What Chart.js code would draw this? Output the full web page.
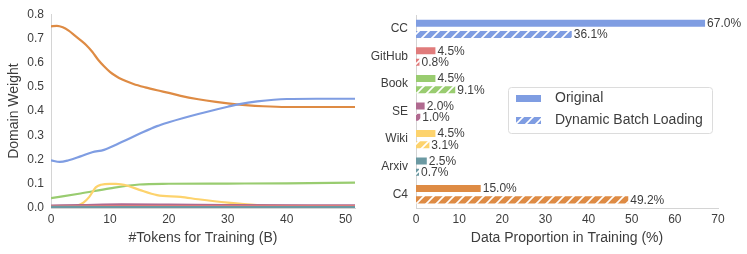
<!DOCTYPE html>
<html lang="en">
<head>
    <meta charset="UTF-8">
    <title>Domain Weight and Data Proportion</title>
    <script src="https://cdn.jsdelivr.net/npm/chart.js"></script>
    <style>
        body { margin: 0; background: #fff; }
        .wrap { position: relative; width: 747px; height: 254px; overflow: hidden; }
        #lineChart { position: absolute; left: 0; top: 0; }
        #barChart { position: absolute; left: 360px; top: 0; }
    </style>
</head>
<body>
    <div class="wrap">
        <canvas id="lineChart" width="370" height="254"></canvas>
        <canvas id="barChart" width="387" height="254"></canvas>
    </div>

    <script>
        // Left panel: domain weights over training tokens (B)
        const c4X   = [0, 1, 2, 3, 4, 5, 6, 7, 8, 9, 10, 11, 12, 14, 16, 18, 20, 22, 25, 28, 30, 33, 36, 40, 45, 51.6];
        const c4W   = [0.75, 0.752, 0.746, 0.732, 0.713, 0.693, 0.672, 0.645, 0.612, 0.585, 0.562, 0.545, 0.531, 0.512, 0.498, 0.486, 0.475, 0.463, 0.449, 0.438, 0.432, 0.425, 0.42, 0.417, 0.417, 0.417];
        const ccX   = [0, 1.5, 3, 5, 7, 9, 12, 15, 18, 20, 25, 30, 32, 35, 40, 45, 51.6];
        const ccW   = [0.197, 0.19, 0.197, 0.213, 0.23, 0.24, 0.272, 0.306, 0.338, 0.354, 0.388, 0.418, 0.429, 0.44, 0.45, 0.451, 0.451];
        const bookX = [0, 5, 10, 15, 20, 30, 40, 51.6];
        const bookW = [0.041, 0.06, 0.081, 0.097, 0.1, 0.101, 0.102, 0.105];
        const wikiX = [0, 3, 4.5, 5.5, 6.5, 7.6, 8.5, 10, 11, 13, 15, 18, 22, 25, 30, 35, 40, 51.6];
        const wikiW = [0.004, 0.005, 0.01, 0.022, 0.046, 0.085, 0.096, 0.1, 0.1, 0.092, 0.075, 0.053, 0.046, 0.036, 0.022, 0.012, 0.008, 0.007];
        const seX   = [0, 5, 12, 20, 30, 51.6];
        const seW   = [0.01, 0.012, 0.015, 0.014, 0.012, 0.011];
        const ghX   = [0, 10, 20, 30, 51.6];
        const ghW   = [0.007, 0.008, 0.008, 0.008, 0.008];
        const axX   = [0, 10, 20, 30, 51.6];
        const axW   = [0.005, 0.004, 0.004, 0.004, 0.004];
        const tokenTicks = [0, 10, 20, 30, 40, 50];

        // Right panel: data proportion in training (%)
        const domains      = ['CC', 'GitHub', 'Book', 'SE', 'Wiki', 'Arxiv', 'C4'];
        const originalPct  = [67.0, 4.5, 4.5, 2.0, 4.5, 2.5, 15.0];
        const dynamicPct   = [36.1, 0.8, 9.1, 1.0, 3.1, 0.7, 49.2];
        const seriesNames  = ['Original', 'Dynamic Batch Loading'];

        const domainColors = ['#7f9de2', '#e07b7b', '#99cc70', '#b06a90', '#fdd36d', '#6b99a2', '#de8b44'];
        const textColor = '#3d3d3d';
        const axisColor = '#d4d4d4';
        const FONT = 'Liberation Sans, Arial, sans-serif';

        function toPoints(xs, ys) {
            return xs.map((x, i) => ({ x: x, y: ys[i] }));
        }

        function lineSet(xs, ys, color) {
            return {
                data: toPoints(xs, ys),
                borderColor: color,
                borderWidth: 2.2,
                pointRadius: 0,
                fill: false,
                cubicInterpolationMode: 'monotone'
            };
        }

        new Chart(document.getElementById('lineChart'), {
            type: 'line',
            data: {
                datasets: [
                    lineSet(axX, axW, domainColors[5]),
                    lineSet(ghX, ghW, domainColors[1]),
                    lineSet(seX, seW, domainColors[3]),
                    lineSet(wikiX, wikiW, domainColors[4]),
                    lineSet(bookX, bookW, domainColors[2]),
                    lineSet(ccX, ccW, domainColors[0]),
                    lineSet(c4X, c4W, domainColors[6])
                ]
            },
            options: {
                responsive: false,
                animation: false,
                devicePixelRatio: 1,
                layout: { padding: { top: 13, right: 15, left: 0, bottom: 0 } },
                plugins: { legend: { display: false }, tooltip: { enabled: false } },
                scales: {
                    x: {
                        type: 'linear',
                        min: 0,
                        max: 51.6,
                        grid: { display: false, drawTicks: false },
                        border: { display: true, color: axisColor },
                        afterBuildTicks: s => { s.ticks = tokenTicks.map(v => ({ value: v })); },
                        ticks: {
                            padding: 4,
                            color: textColor,
                            font: { family: FONT, size: 12 }
                        },
                        title: {
                            display: true,
                            text: '#Tokens for Training (B)',
                            color: textColor,
                            font: { family: FONT, size: 14 },
                            padding: { top: 4, bottom: 7.5 }
                        },
                        afterFit: s => { s.height = 46; }
                    },
                    y: {
                        min: 0,
                        max: 0.8,
                        grid: { display: false, drawTicks: false },
                        border: { display: true, color: axisColor },
                        ticks: {
                            stepSize: 0.1,
                            padding: 7,
                            color: textColor,
                            font: { family: FONT, size: 12 },
                            callback: v => v.toFixed(1)
                        },
                        title: {
                            display: true,
                            text: 'Domain Weight',
                            color: textColor,
                            font: { family: FONT, size: 14 },
                            padding: { top: 5.5, bottom: 4 }
                        },
                        afterFit: s => { s.width = 51; }
                    }
                }
            }
        });

        // diagonal white hatch on top of a bar colour
        function hatch(color) {
            const c = document.createElement('canvas');
            c.width = 10;
            c.height = 10;
            const g = c.getContext('2d');
            g.fillStyle = color;
            g.fillRect(0, 0, 10, 10);
            g.strokeStyle = '#ffffff';
            g.lineWidth = 1.6;
            g.beginPath();
            g.moveTo(0, 10); g.lineTo(10, 0);
            g.moveTo(-5, 5); g.lineTo(5, -5);
            g.moveTo(5, 15); g.lineTo(15, 5);
            g.stroke();
            return g.createPattern(c, 'repeat');
        }

        const valueLabels = {
            id: 'valueLabels',
            afterDatasetsDraw(chart) {
                const ctx = chart.ctx;
                ctx.save();
                ctx.font = '12px ' + FONT;
                ctx.fillStyle = textColor;
                ctx.textAlign = 'left';
                ctx.textBaseline = 'middle';
                chart.data.datasets.forEach((ds, di) => {
                    chart.getDatasetMeta(di).data.forEach((bar, i) => {
                        ctx.fillText(ds.data[i].toFixed(1) + '%', bar.x + 2, bar.y + 0.5);
                    });
                });
                ctx.restore();
            }
        };

        const boxLegend = {
            id: 'boxLegend',
            afterDraw(chart) {
                const ctx = chart.ctx;
                const bx = 148, by = 87, bw = 204, bh = 46;
                ctx.save();
                ctx.fillStyle = 'rgba(255,255,255,0.9)';
                ctx.strokeStyle = '#dcdcdc';
                ctx.lineWidth = 1;
                ctx.beginPath();
                ctx.roundRect(bx + 0.5, by + 0.5, bw, bh, 3);
                ctx.fill();
                ctx.stroke();
                const rows = [98, 120];
                const fills = [domainColors[0], hatch(domainColors[0])];
                ctx.font = '14px ' + FONT;
                ctx.textBaseline = 'middle';
                rows.forEach((y, i) => {
                    ctx.fillStyle = fills[i];
                    ctx.fillRect(bx + 8, y - 3, 25, 7);
                    ctx.fillStyle = textColor;
                    ctx.fillText(seriesNames[i], bx + 47, y);
                });
                ctx.restore();
            }
        };

        new Chart(document.getElementById('barChart'), {
            type: 'bar',
            data: {
                labels: domains,
                datasets: [
                    {
                        label: seriesNames[0],
                        data: originalPct,
                        backgroundColor: domainColors,
                        categoryPercentage: 0.82,
                        barPercentage: 0.62
                    },
                    {
                        label: seriesNames[1],
                        data: dynamicPct,
                        backgroundColor: domainColors.map(hatch),
                        categoryPercentage: 0.82,
                        barPercentage: 0.62
                    }
                ]
            },
            options: {
                indexAxis: 'y',
                responsive: false,
                animation: false,
                devicePixelRatio: 1,
                layout: { padding: { top: 12, right: 29, left: 0, bottom: 0 } },
                plugins: { legend: { display: false }, tooltip: { enabled: false } },
                scales: {
                    x: {
                        min: 0,
                        max: 70,
                        grid: { display: false, drawTicks: false },
                        border: { display: true, color: axisColor },
                        ticks: {
                            stepSize: 10,
                            padding: 4,
                            color: textColor,
                            font: { family: FONT, size: 12 }
                        },
                        title: {
                            display: true,
                            text: 'Data Proportion in Training (%)',
                            color: textColor,
                            font: { family: FONT, size: 14 },
                            padding: { top: 4, bottom: 7.5 }
                        },
                        afterFit: s => { s.height = 46; }
                    },
                    y: {
                        grid: { display: false, drawTicks: false },
                        border: { display: true, color: axisColor },
                        ticks: {
                            padding: 8,
                            color: textColor,
                            font: { family: FONT, size: 12 }
                        },
                        afterFit: s => { s.width = 56; }
                    }
                }
            },
            plugins: [valueLabels, boxLegend]
        });
    </script>
</body>
</html>
